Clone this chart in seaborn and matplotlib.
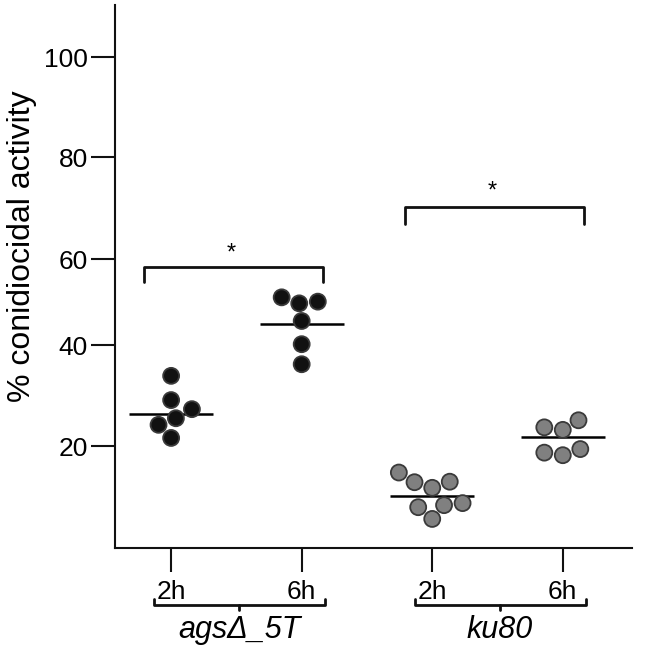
import numpy as np
import pandas as pd
import matplotlib
matplotlib.use('Agg')
import matplotlib.pyplot as plt
import matplotlib.transforms as mtransforms
import seaborn as sns

sns.set_style('ticks')
plt.rcParams['font.family'] = ['Liberation Sans', 'DejaVu Sans']
plt.rcParams['text.color'] = 'black'
plt.rcParams['axes.labelcolor'] = 'black'
plt.rcParams['xtick.color'] = 'black'
plt.rcParams['ytick.color'] = 'black'

strains = ['agsΔ_5T', 'ku80']
times = ['2h', '6h']
ags_2h = [33.9, 29.1, 27.3, 25.5, 24.2, 21.6]
ags_6h = [49.7, 51.1, 50.1, 45.6, 40.2, 36.2]
ku80_2h = [14.8, 13.0, 12.9, 11.8, 8.8, 8.4, 8.0, 5.7]
ku80_6h = [23.7, 25.1, 23.2, 19.4, 18.2, 18.7]
line_values = [26.3, 44.9, 10.1, 21.8]   # horizontal bars as drawn
y_ticks = [20, 40, 60, 80, 100]
# significance brackets: left group, right group, height
brackets = [(0, 1, 58.2), (2, 3, 70.3)]

rows = []
for strain, t, vals in [(strains[0], times[0], ags_2h), (strains[0], times[1], ags_6h),
                        (strains[1], times[0], ku80_2h), (strains[1], times[1], ku80_6h)]:
    for v in vals:
        rows.append({'strain': strain, 'group': '%s %s' % (strain, t), 'value': v})
df = pd.DataFrame(rows)
groups = list(df['group'].unique())
lines = pd.DataFrame({'group': groups, 'value': line_values})

# the printed y axis is not evenly spaced -> piecewise scale through its tick marks
axis_vals = np.array([-100, 0, 20, 40, 60, 80, 100, 200])
axis_pos = np.array([-510, 0, 102, 203, 289, 391, 490.7, 990.7])
def fwd(v):
    return np.interp(v, axis_vals, axis_pos)
def inv(p):
    return np.interp(p, axis_pos, axis_vals)

fig = plt.figure(figsize=(6.53, 6.54), dpi=100)
ax = fig.add_axes([0.1761, 0.1621, 0.7917, 0.8303])
ax.set_yscale('function', functions=(fwd, inv))

sns.swarmplot(data=df, x='group', y='value', hue='strain', order=groups,
              palette={strains[0]: '#111111', strains[1]: '#808080'},
              size=11.5, edgecolor='#3a3a3a', linewidth=1.3, legend=False, ax=ax)
sns.pointplot(data=lines, x='group', y='value', order=groups, color='black',
              marker='_', markersize=61, markeredgewidth=1.8, linestyle='none',
              errorbar=None, ax=ax)

ax.set_ylim(0, 110.5)
ax.set_yticks(y_ticks)
ax.set_xlim(-0.43, 3.53)
ax.set_xticks(range(4), labels=times * 2)
ax.set_xlabel('')
ax.set_ylabel('% conidiocidal activity', fontsize=23)
ax.yaxis.set_label_coords(-0.151, 0.556)
sns.despine(ax=ax)
for s in ['left', 'bottom']:
    ax.spines[s].set_linewidth(1.5)
    ax.spines[s].set_color('#111111')
ax.tick_params(axis='both', length=17, width=1.5, color='#111111', labelsize=19)
ax.tick_params(axis='y', pad=2.5)
ax.tick_params(axis='x', pad=6)

# significance brackets
for a, b, h in brackets:
    ax.plot([a - 0.21, a - 0.21, b + 0.16, b + 0.16], [h - 3.5, h, h, h - 3.5],
            color='#111111', lw=2)
    ax.text((a + b) / 2 - 0.04, h + 1.7, '*', ha='center', va='baseline', fontsize=17)

# group brackets under the time labels
trans = mtransforms.blended_transform_factory(ax.transData, ax.transAxes)
for i, strain in enumerate(strains):
    left, right, mid = 2 * i - 0.13, 2 * i + 1.18, 2 * i + 0.52
    ax.plot([left, left, right, right], [-0.094, -0.105, -0.105, -0.094],
            transform=trans, clip_on=False, color='#111111', lw=2)
    ax.plot([mid, mid], [-0.105, -0.114], transform=trans, clip_on=False,
            color='#111111', lw=2)
    ax.text(mid, -0.124, strain, ha='center', va='top', fontsize=22,
            fontstyle='italic', transform=trans)

fig.savefig('out.png', dpi=100)
plt.close()
